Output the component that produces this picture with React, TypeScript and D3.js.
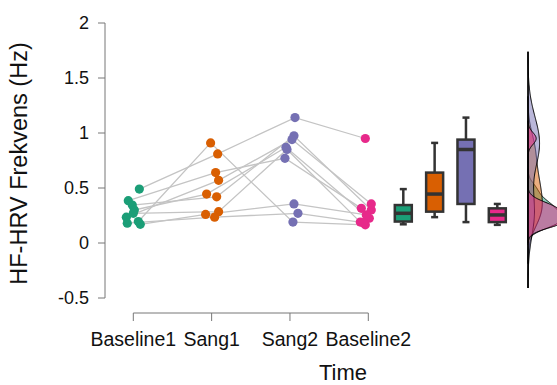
import React from "react";
import * as d3 from "d3";

// Conditions (time points) and per-subject HF-HRV values, same subject order in each array
const categories = ["Baseline1", "Sang1", "Sang2", "Baseline2"];
const baseline1 = [0.49, 0.195, 0.385, 0.345, 0.235, 0.3, 0.27, 0.17, 0.18];
const sang1 = [0.81, 0.91, 0.64, 0.42, 0.57, 0.445, 0.285, 0.26, 0.235];
const sang2 = [1.14, 0.19, 0.77, 0.975, 0.94, 0.87, 0.85, 0.355, 0.27];
const baseline2 = [0.95, 0.165, 0.315, 0.3, 0.355, 0.225, 0.19, 0.255, 0.185];

// Horizontal jitter of each point, in category units
const jitterB1 = [0.077, 0.064, -0.064, -0.013, -0.089, 0.013, 0, 0.089, -0.077];
const jitterS1 = [0.077, -0.013, 0.051, 0.064, 0.089, -0.064, 0.089, -0.077, 0.038];
const jitterS2 = [0.064, 0.038, -0.064, 0.051, 0.026, -0.051, -0.038, 0.051, 0.102];
const jitterB2 = [-0.038, -0.038, -0.089, 0.038, 0.038, 0.013, -0.102, -0.026, -0.064];

const yTicks = [-0.5, 0, 0.5, 1, 1.5, 2];
const colors = ["#1b9e77", "#d95f02", "#7570b3", "#e7298a"];

const groups = [baseline1, sang1, sang2, baseline2];
const jitters = [jitterB1, jitterS1, jitterS2, jitterB2];

const W = 557;
const H = 385;
const FONT = "'Liberation Sans', Arial, Helvetica, sans-serif";

const y = d3.scaleLinear().domain([-0.5, 2]).range([298, 23]);
const x = d3.scaleLinear().domain([0, 3]).range([133.3, 368.3]);
const xBox = d3.scaleLinear().domain([0, 3]).range([403.3, 497.3]);

// Tukey box statistics (type-7 quantiles, whiskers to 1.5 IQR)
function boxStats(vals: number[]) {
  const s = [...vals].sort(d3.ascending);
  const q1 = d3.quantileSorted(s, 0.25)!;
  const med = d3.quantileSorted(s, 0.5)!;
  const q3 = d3.quantileSorted(s, 0.75)!;
  const iqr = q3 - q1;
  const lo = d3.min(s.filter((v) => v >= q1 - 1.5 * iqr))!;
  const hi = d3.max(s.filter((v) => v <= q3 + 1.5 * iqr))!;
  return { q1, med, q3, lo, hi };
}

// Gaussian KDE with the nrd0 rule-of-thumb bandwidth, cut = 3 bandwidths
function kde(vals: number[]) {
  const s = [...vals].sort(d3.ascending);
  const sd = d3.deviation(s)!;
  const iqr = d3.quantileSorted(s, 0.75)! - d3.quantileSorted(s, 0.25)!;
  const bw = 0.9 * Math.min(sd, iqr / 1.34) * Math.pow(s.length, -0.2);
  const from = s[0] - 3 * bw;
  const to = s[s.length - 1] + 3 * bw;
  const n = 256;
  const pts: [number, number][] = [];
  for (let i = 0; i < n; i++) {
    const t = from + ((to - from) * i) / (n - 1);
    let d = 0;
    for (const v of s) {
      const u = (t - v) / bw;
      d += Math.exp(-0.5 * u * u);
    }
    d /= s.length * bw * Math.sqrt(2 * Math.PI);
    pts.push([t, d]);
  }
  return { pts, from, to };
}

const densities = groups.map(kde);
const densBase = 528;
const densX = d3.scaleLinear().domain([0, 1]).range([densBase, densBase + 10]);
const densArea = d3
  .area<[number, number]>()
  .y((p) => y(p[0]))
  .x0(densBase)
  .x1((p) => densX(p[1]))
  .curve(d3.curveLinear);
const densMin = d3.min(densities, (d) => d.from)!;
const densMax = d3.max(densities, (d) => d.to)!;

export default function App() {
  const boxW = 17;
  const capW = 7;
  return (
    <svg
      width={W}
      height={H}
      style={{ position: "absolute", left: 0, top: 0, background: "#fff" }}
      fontFamily={FONT}
    >
      {/* y axis */}
      <line x1={105} x2={105} y1={y(-0.5)} y2={y(2)} stroke="#777" strokeWidth={1} />
      {yTicks.map((t) => (
        <g key={t}>
          <line x1={98} x2={105} y1={y(t)} y2={y(t)} stroke="#777" strokeWidth={1} />
          <text x={89} y={y(t)} dy="0.35em" textAnchor="end" fontSize={18} fill="#111">
            {t}
          </text>
        </g>
      ))}
      <text
        transform={`translate(${27},${(y(-0.5) + y(2)) / 2 + 3}) rotate(-90)`}
        textAnchor="middle"
        fontSize={23.5}
        fill="#111"
      >
        HF-HRV Frekvens (Hz)
      </text>

      {/* x axis */}
      <line x1={x(0)} x2={x(3)} y1={313} y2={313} stroke="#777" strokeWidth={1} />
      {categories.map((c, i) => (
        <g key={c}>
          <line x1={x(i)} x2={x(i)} y1={313} y2={321} stroke="#777" strokeWidth={1} />
          <text x={x(i)} y={346} textAnchor="middle" fontSize={19.5} fill="#111">
            {c}
          </text>
        </g>
      ))}
      <text x={343} y={380} textAnchor="middle" fontSize={22} fill="#111">
        Time
      </text>

      {/* subject trajectories */}
      {baseline1.map((_, s) => (
        <path
          key={s}
          d={
            d3.line()(
              groups.map((g, gi) => [x(gi + jitters[gi][s]), y(g[s])] as [number, number])
            )!
          }
          fill="none"
          stroke="#c4c4c4"
          strokeWidth={1.3}
        />
      ))}

      {/* points */}
      {groups.map((g, gi) =>
        g.map((v, s) => (
          <circle
            key={`${gi}-${s}`}
            cx={x(gi + jitters[gi][s])}
            cy={y(v)}
            r={4.6}
            fill={colors[gi]}
          />
        ))
      )}

      {/* box plots */}
      {groups.map((g, gi) => {
        const b = boxStats(g);
        const cx = xBox(gi);
        return (
          <g key={gi} stroke="#333">
            <line x1={cx} x2={cx} y1={y(b.hi)} y2={y(b.q3)} strokeWidth={2.5} />
            <line x1={cx} x2={cx} y1={y(b.q1)} y2={y(b.lo)} strokeWidth={2.5} />
            <line x1={cx - capW / 2} x2={cx + capW / 2} y1={y(b.hi)} y2={y(b.hi)} strokeWidth={2.5} />
            <line x1={cx - capW / 2} x2={cx + capW / 2} y1={y(b.lo)} y2={y(b.lo)} strokeWidth={2.5} />
            <rect
              x={cx - boxW / 2}
              y={y(b.q3)}
              width={boxW}
              height={y(b.q1) - y(b.q3)}
              fill={colors[gi]}
              strokeWidth={2.5}
            />
            <line x1={cx - boxW / 2} x2={cx + boxW / 2} y1={y(b.med)} y2={y(b.med)} strokeWidth={3.5} />
          </g>
        );
      })}

      {/* half-violin densities */}
      {densities.map((d, gi) => (
        <path
          key={gi}
          d={densArea(d.pts)!}
          fill={colors[gi]}
          fillOpacity={0.5}
          stroke="#000"
          strokeWidth={1}
        />
      ))}
      <line
        x1={densBase}
        x2={densBase}
        y1={y(densMin)}
        y2={y(densMax)}
        stroke="#000"
        strokeWidth={1.5}
      />
    </svg>
  );
}
